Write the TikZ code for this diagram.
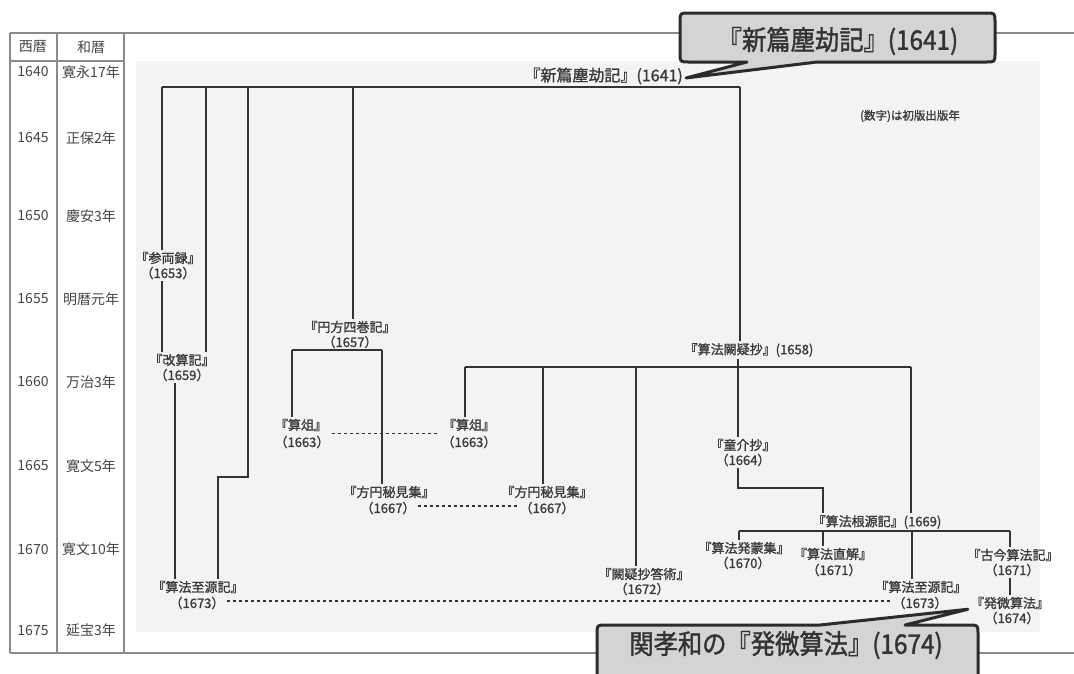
\documentclass[tikz,border=0pt]{standalone}
\usepackage{fontspec}
\newfontfamily\jp[FakeBold=1.3]{Noto Sans CJK JP}
\newfontfamily\jpt{Noto Sans CJK JP}
\newfontfamily\jpc[FakeStretch=0.9,FakeBold=1.3]{Noto Sans CJK JP}
\definecolor{ln}{HTML}{333333}
\definecolor{txt}{HTML}{3A3A3A}
\definecolor{tabtxt}{HTML}{454545}
\definecolor{frm}{HTML}{8A8A8A}
\definecolor{panel}{HTML}{F3F3F3}
\definecolor{cfill}{HTML}{D4D4D4}
\definecolor{cdraw}{HTML}{2B2B2B}
\definecolor{ctext}{HTML}{333333}
\begin{document}
\begin{tikzpicture}[x=1pt,y=-1pt,
  lab/.style={font=\jp\fontsize{13}{15}\selectfont, text=txt, inner sep=2pt},
  toplab/.style={font=\jp\fontsize{16}{18}\selectfont, text=txt, inner sep=0pt},
  notelab/.style={font=\jp\fontsize{11.5}{13}\selectfont, text=txt, inner sep=1pt},
  tabtext/.style={font=\jpt\fontsize{14}{16}\selectfont, text=tabtxt, inner sep=1pt},
  br/.style={draw=ln, line width=1.5pt},
  dsh/.style={draw=ln, line width=1.3pt, dash pattern=on 3.5pt off 2.5pt},
  tframe/.style={draw=frm, line width=1.2pt},
  callout/.style={fill=cfill, draw=cdraw, line width=3pt, line join=round},
  ctxt/.style={font=\jpc\fontsize{27}{30}\selectfont, text=ctext, inner sep=0pt}]
\useasboundingbox (0,0) rectangle (1074,673);
\clip (0,0) rectangle (1074,673);
\fill[white] (0,0) rectangle (1074,673);
\fill[panel] (136,61) rectangle (1040,632);

% frame and table
\draw[tframe] (10,33) -- (1074,33);
\draw[tframe] (10,653) -- (1074,653);
\draw[tframe] (10,33) -- (10,653);
\draw[tframe] (57,33) -- (57,653);
\draw[tframe] (124,33) -- (124,653);
\draw[tframe] (10,61) -- (124,61);
\node[tabtext] (hseireki) at (33,47) {西暦};
\node[tabtext] (hwareki) at (91,47) {和暦};
\foreach \yr/\era/\yy [count=\i] in {1640/寛永17年/72, 1645/正保2年/138, 1650/慶安3年/216, 1655/明暦元年/299, 1660/万治3年/382, 1665/寛文5年/466, 1670/寛文10年/549, 1675/延宝3年/630}{
  \node[tabtext] (yr\i) at (33,\yy) {\yr};
  \node[tabtext] (era\i) at (91,\yy) {\era};
}

% labels
\node[toplab, anchor=east] (shinpen) at (683,76) {『新篇塵劫記』(1641)};
\node[notelab] (note) at (910,116) {(数字)は初版出版年};
\node[lab] (sanryo) at (168,258) {『参両録』};
\node[lab] (sanryoy) at (168,273) {（1653）};
\node[lab] (kaisan) at (182,360) {『改算記』};
\node[lab] (kaisany) at (182,375) {（1659）};
\node[lab] (enpo) at (350,327) {『円方四巻記』};
\node[lab] (enpoy) at (350,342) {（1657）};
\node[lab] (sanso1) at (301,425) {『算俎』};
\node[lab] (sanso1y) at (302,442) {（1663）};
\node[lab] (sanso2) at (469,425) {『算俎』};
\node[lab] (sanso2y) at (469,442) {（1663）};
\node[lab] (hoen1) at (389,492) {『方円秘見集』};
\node[lab] (hoen1y) at (388,508) {（1667）};
\node[lab] (hoen2) at (547,492) {『方円秘見集』};
\node[lab] (hoen2y) at (547,508) {（1667）};
\node[lab] (ketsugi) at (749,350) {『算法闕疑抄』(1658)};
\node[lab] (doukai) at (743,445) {『童介抄』};
\node[lab] (doukaiy) at (743,460) {（1664）};
\node[lab] (kettou) at (644,574) {『闕疑抄答術』};
\node[lab] (kettouy) at (642,589) {（1672）};
\node[lab] (shigen1) at (198,587) {『算法至源記』};
\node[lab] (shigen1y) at (197,603) {（1673）};
\node[lab] (kongen) at (877,522) {『算法根源記』(1669)};
\node[lab] (hatsumou) at (744,548) {『算法発蒙集』};
\node[lab] (hatsumouy) at (743,563) {（1670）};
\node[lab] (chokkai) at (833,554) {『算法直解』};
\node[lab] (chokkaiy) at (834,570) {（1671）};
\node[lab] (kokon) at (1013,555) {『古今算法記』};
\node[lab] (kokony) at (1012,570) {（1671）};
\node[lab] (shigen2) at (921,587) {『算法至源記』};
\node[lab] (shigen2y) at (920,603) {（1673）};
\node[lab] (hatsubi) at (1010,603) {『発微算法』};
\node[lab] (hatsubiy) at (1012,618) {（1674）};

% junction coordinates
\coordinate (t162) at (162,87);
\coordinate (t206) at (206,87);
\coordinate (t248) at (248,87);
\coordinate (t353) at (353,87);
\coordinate (t740) at (740,87);
\coordinate (c175) at (175,400);
\coordinate (b248) at (248,477);
\coordinate (b218) at (218,477);
\coordinate (e292) at (292,350);
\coordinate (e382) at (382,350);
\coordinate (k465) at (465,367);
\coordinate (k543) at (543,367);
\coordinate (k636) at (636,367);
\coordinate (k738) at (738,367);
\coordinate (k911) at (911,367);
\coordinate (d738) at (738,488);
\coordinate (d823) at (823,488);
\coordinate (g739) at (739,531);
\coordinate (g823) at (823,531);
\coordinate (g912) at (912,531);
\coordinate (g1010) at (1010,531);

% branches
\draw[br] (t162) -- (t740);
\draw[br] (t740) -- (t740 |- ketsugi.north);
\draw[br] (t162) -- (t162 |- sanryo.north);
\draw[br] (sanryoy.south -| t162) -- (t162 |- kaisan.north);
\draw[br] (t206) -- (t206 |- kaisan.north);
\draw[br] (kaisany.south -| c175) -- (c175 |- shigen1.north);
\draw[br] (t248) -- (b248) -- (b218) -- (b218 |- shigen1.north);
\draw[br] (t353) -- (t353 |- enpo.north);
\draw[br] (enpoy.south -| t353) -- (t353 |- e292);
\draw[br] (e292) -- (e382);
\draw[br] (e292) -- (e292 |- sanso1.north);
\draw[br] (e382) -- (e382 |- hoen1.north);
\draw[br] (k465) -- (k911);
\draw[br] (ketsugi.south -| k738) -- (k738 |- doukai.north);
\draw[br] (k465) -- (k465 |- sanso2.north);
\draw[br] (k543) -- (k543 |- hoen2.north);
\draw[br] (k636) -- (k636 |- kettou.north);
\draw[br] (k911) -- (k911 |- kongen.north);
\draw[br] (doukaiy.south -| d738) -- (d738) -- (d823) -- (d823 |- kongen.north);
\draw[br] (g739) -- (g1010);
\draw[br] (g739) -- (g739 |- hatsumou.north);
\draw[br] (g823) -- (g823 |- chokkai.north);
\draw[br] (g912) -- (g912 |- shigen2.north);
\draw[br] (g1010) -- (g1010 |- kokon.north);
\draw[br] (kokony.south -| g1010) -- (g1010 |- hatsubi.north);

% dashed links
\draw[dsh] (sanso1y.north east) -- (sanso2y.north west);
\draw[dsh] ([yshift=2pt]hoen1y.east) -- ([yshift=2pt]hoen2y.west);
\draw[dsh] ([yshift=2pt]shigen1y.east) -- ([yshift=2pt]shigen2y.west);

% callouts
\coordinate (tip1) at ([shift={(3pt,-2pt)}]shinpen.east);
\draw[callout] (689,13) -- (986,13) .. controls (995,13) .. (995,22) -- (995,53)
  .. controls (995,62) .. (986,62) -- (817,62) -- (tip1) -- (747,62) -- (689,62)
  .. controls (680,62) .. (680,53) -- (680,22) .. controls (680,13) .. (689,13) -- cycle;
\node[ctxt] (c1) at (838,41) {『新篇塵劫記』(1641)};

\coordinate (tip2) at ([shift={(-1pt,2pt)}]hatsubi.south west);
\draw[callout] (606,625) -- (820,625) -- (tip2) -- (905,625) -- (969,625)
  .. controls (978,625) .. (978,634) -- (978,700) -- (597,700) -- (597,634)
  .. controls (597,625) .. (606,625) -- cycle;
\node[ctxt] (c2) at (786,645) {関孝和の『発微算法』(1674)};
\end{tikzpicture}
\end{document}
